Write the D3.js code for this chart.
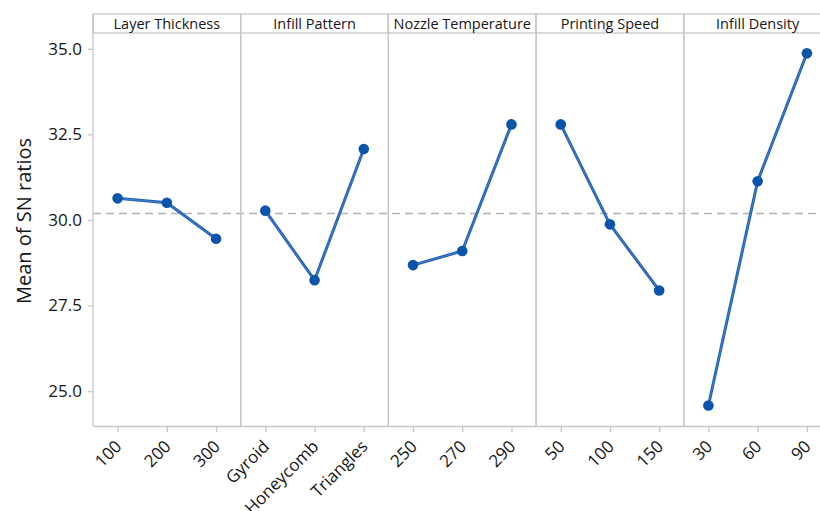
<!DOCTYPE html>
<html>
<head>
<meta charset="utf-8">
<script src="https://cdn.jsdelivr.net/npm/d3@7"></script>
<style>
  html, body { margin: 0; padding: 0; background: #fff; }
  svg { display: block; font-family: "Open Sans", "Noto Sans", sans-serif; }
</style>
</head>
<body>
<svg id="chart" width="820" height="511"></svg>
<script>
// Main effects plot for SN ratios, one panel per factor
const factors = ["Layer Thickness", "Infill Pattern", "Nozzle Temperature", "Printing Speed", "Infill Density"];
const levels = [
  ["100", "200", "300"],
  ["Gyroid", "Honeycomb", "Triangles"],
  ["250", "270", "290"],
  ["50", "100", "150"],
  ["30", "60", "90"]
];
const snMeans = [
  [30.63, 30.50, 29.45],
  [30.27, 28.24, 32.07],
  [28.68, 29.09, 32.79],
  [32.79, 29.87, 27.94],
  [24.58, 31.13, 34.87]
];
const overallMean = 30.19;
const yTicks = [25.0, 27.5, 30.0, 32.5, 35.0];
const yTitle = "Mean of SN ratios";

const svg = d3.select("#chart");
const fontStack = "\"Open Sans\", \"Noto Sans\", sans-serif";
const frameLeft = 93, panelW = 147.7;
const headTop = 14, headBottom = 33, plotBottom = 426;
const gridColor = "#c6c6c6";
const textColor = "#161616";
const lineColor = "#2463b6";
const lineHighlight = "#6d9bd6";
const dotColor = "#0b54aa";

const y = d3.scaleLinear().domain([23.98, 35.46]).range([plotBottom, headBottom]);
const panelX = d3.scaleBand().domain(factors).range([frameLeft, frameLeft + panelW * factors.length]);

// y axis
const yAxis = svg.append("g")
  .attr("transform", `translate(${frameLeft},0)`)
  .call(d3.axisLeft(y).tickValues(yTicks).tickFormat(d3.format(".1f")).tickSize(5).tickPadding(6));
yAxis.select(".domain").remove();
yAxis.selectAll(".tick line").attr("stroke", gridColor).attr("stroke-width", 1.3);
yAxis.selectAll(".tick text").attr("font-size", 17).attr("fill", textColor)
  .attr("font-family", fontStack);

svg.append("text")
  .attr("transform", `translate(31,221) rotate(-90)`)
  .attr("text-anchor", "middle")
  .attr("font-size", 20)
  .attr("fill", textColor)
  .text(yTitle);

// reference line at the overall mean
svg.append("line")
  .attr("x1", frameLeft).attr("x2", 820)
  .attr("y1", y(overallMean)).attr("y2", y(overallMean))
  .attr("stroke", "#b4b4b4").attr("stroke-width", 1.5)
  .attr("stroke-dasharray", "8,5");

factors.forEach((f, i) => {
  const x0 = panelX(f);
  const g = svg.append("g").attr("transform", `translate(${x0},0)`);
  const x = d3.scalePoint().domain(levels[i]).range([0, panelW]).padding(0.5);

  // header strip
  g.append("rect")
    .attr("x", 0).attr("y", headTop)
    .attr("width", panelW).attr("height", headBottom - headTop)
    .attr("fill", "#fff").attr("stroke", gridColor).attr("stroke-width", 1.3);
  g.append("text")
    .attr("x", panelW / 2).attr("y", (headTop + headBottom) / 2 + 5)
    .attr("text-anchor", "middle")
    .attr("font-size", 14.5)
    .attr("fill", textColor)
    .text(f);

  // panel borders
  g.append("line").attr("x1", 0).attr("x2", 0)
    .attr("y1", headTop).attr("y2", plotBottom)
    .attr("stroke", gridColor).attr("stroke-width", 1.3);
  g.append("line").attr("x1", panelW).attr("x2", panelW)
    .attr("y1", headTop).attr("y2", plotBottom)
    .attr("stroke", gridColor).attr("stroke-width", 1.3);

  // x axis
  const xa = g.append("g")
    .attr("transform", `translate(0,${plotBottom})`)
    .call(d3.axisBottom(x).tickSize(6).tickSizeOuter(0));
  xa.select(".domain").attr("stroke", gridColor).attr("stroke-width", 1.5);
  xa.selectAll(".tick line").attr("stroke", gridColor).attr("stroke-width", 1.3);
  xa.selectAll(".tick text")
    .attr("font-size", 17).attr("fill", textColor)
    .attr("font-family", fontStack)
    .attr("text-anchor", "end")
    .attr("dy", "0.35em")
    .attr("transform", "translate(-6,11) rotate(-45)");

  // main-effect line and points
  const pts = levels[i].map((lv, j) => [x(lv), y(snMeans[i][j])]);
  const path = d3.line()(pts);
  g.append("path")
    .attr("d", path)
    .attr("fill", "none")
    .attr("stroke", lineColor)
    .attr("stroke-width", 3);
  g.append("path")
    .attr("d", path)
    .attr("fill", "none")
    .attr("stroke", lineHighlight)
    .attr("stroke-opacity", 0.55)
    .attr("stroke-width", 0.8);
  g.selectAll("circle.pt").data(pts).enter().append("circle")
    .attr("class", "pt")
    .attr("cx", d => d[0]).attr("cy", d => d[1])
    .attr("r", 5.3)
    .attr("fill", dotColor);
});
</script>
</body>
</html>
